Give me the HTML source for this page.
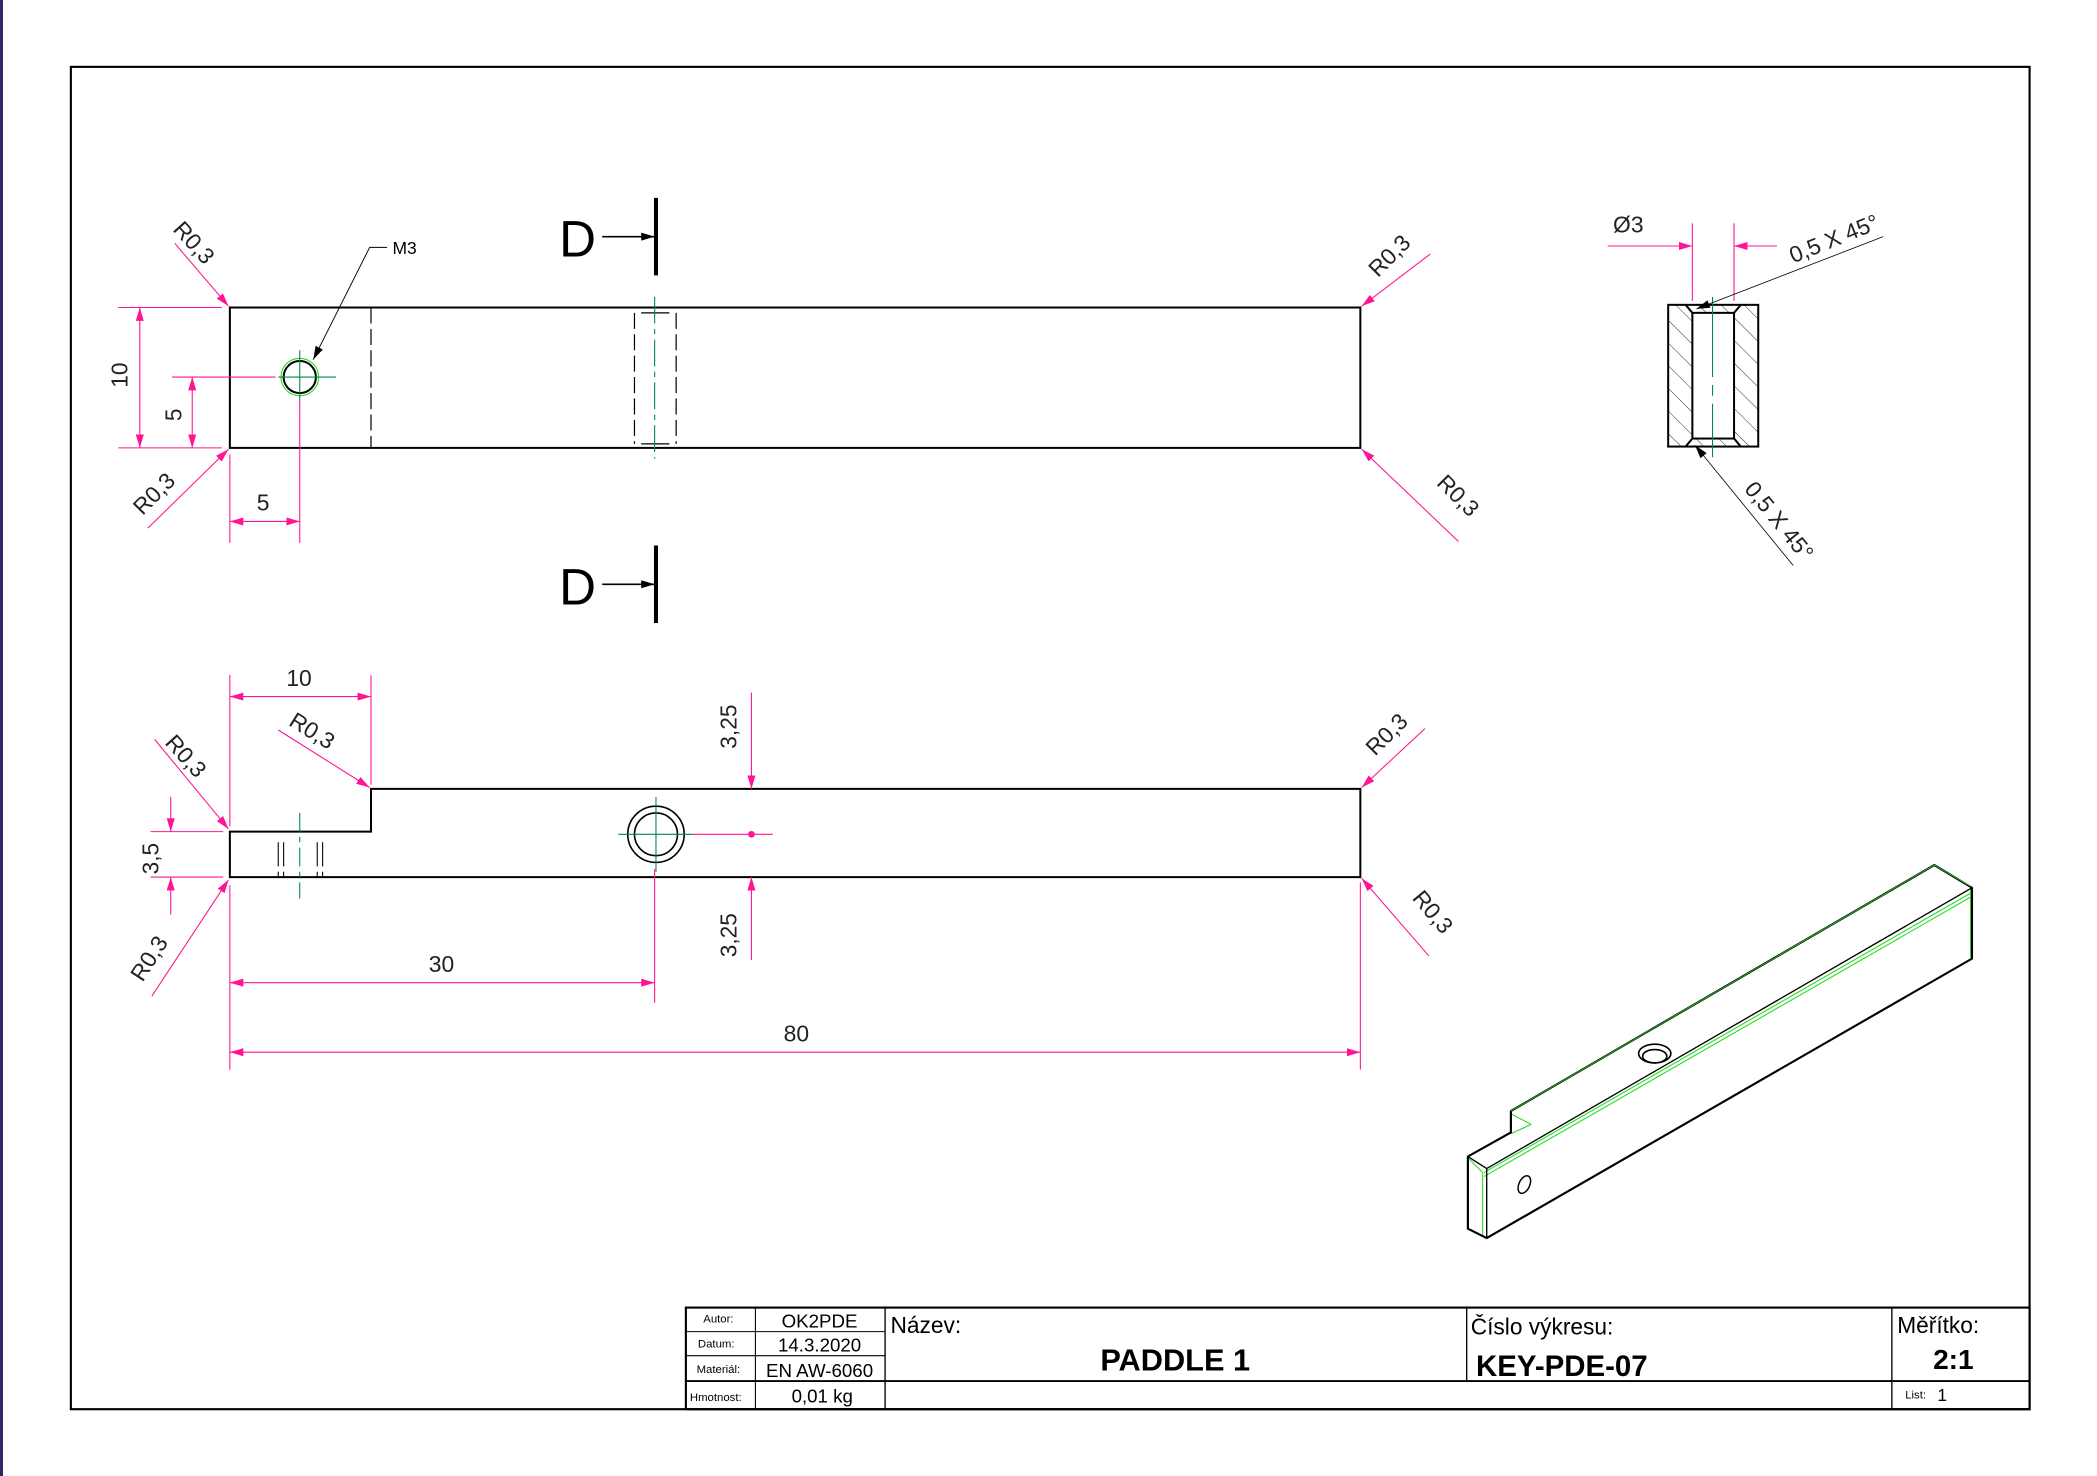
<!DOCTYPE html>
<html><head><meta charset="utf-8"><style>
html,body{margin:0;padding:0;background:#fff;}
svg{display:block;}
text{font-family:"Liberation Sans","DejaVu Sans",sans-serif;}
</style></head><body>
<svg width="2097" height="1476" viewBox="0 0 2097 1476" xmlns="http://www.w3.org/2000/svg">
<defs>
<marker id="a" viewBox="0 0 10 6" refX="10" refY="3" markerWidth="10" markerHeight="6" markerUnits="userSpaceOnUse" orient="auto-start-reverse"><path d="M0,0 L10,3 L0,6 Z" fill="#ff1493"/></marker>
<marker id="k" viewBox="0 0 10 6" refX="10" refY="3" markerWidth="11" markerHeight="6" markerUnits="userSpaceOnUse" orient="auto"><path d="M0,0 L10,3 L0,6 Z" fill="#000"/></marker>
<pattern id="h" patternUnits="userSpaceOnUse" width="12" height="12" patternTransform="rotate(-45)"><line x1="0" y1="0" x2="0" y2="12" stroke="#000" stroke-width="0.6"/></pattern>
</defs>
<rect x="0" y="0" width="3" height="1476" fill="#2b2b5e"/>
<g transform="scale(1.337)">
<rect x="53" y="50" width="1465" height="1004" fill="none" stroke="#000" stroke-width="1.6"/>
<g transform="scale(1.0054,1)">
<g fill="none" stroke="#000" stroke-width="1.5">
<rect x="171" y="230" width="841" height="105"/>
<circle cx="223" cy="282" r="12"/>
<path d="M171,622 L276,622 L276,590 L1012,590 L1012,656 L171,656 Z"/>
<circle cx="488" cy="624" r="21" stroke-width="1.2"/>
<circle cx="488" cy="624" r="16" stroke-width="1.2"/>
<rect x="1241" y="228" width="67" height="106" fill="url(#h)"/>
<rect x="1259" y="234" width="31" height="94" fill="#fff"/>
<path d="M1254,228 L1259,234 M1295,228 L1290,234 M1254,334 L1259,328 M1295,334 L1290,328"/>
</g>
<circle cx="223" cy="282" r="14" fill="none" stroke="#22dd22" stroke-width="0.8"/>
<g stroke="#000" stroke-width="0.9" stroke-dasharray="12,4" fill="none">
<line x1="276" y1="230" x2="276" y2="335"/>
<line x1="472" y1="234" x2="472" y2="332"/><line x1="503" y1="234" x2="503" y2="332"/>
<line x1="477" y1="234" x2="498" y2="234" stroke-dasharray="none"/><line x1="477" y1="332" x2="498" y2="332" stroke-dasharray="none"/>
</g>
<g stroke="#000" stroke-width="0.8" fill="none">
<line x1="207" y1="630" x2="207" y2="656" stroke-dasharray="18,4"/><line x1="211" y1="630" x2="211" y2="656" stroke-dasharray="18,4"/>
<line x1="236" y1="630" x2="236" y2="656" stroke-dasharray="18,4"/><line x1="240" y1="630" x2="240" y2="656" stroke-dasharray="18,4"/>
</g>
<g stroke="#008844" stroke-width="0.8" fill="none">
<line x1="207" y1="282" x2="250" y2="282"/><line x1="223" y1="262" x2="223" y2="300"/>
<line x1="487" y1="222" x2="487" y2="343" stroke-dasharray="20,4,4,4"/>
<line x1="460" y1="624" x2="516" y2="624"/><line x1="488" y1="596" x2="488" y2="652"/>
<line x1="223" y1="608" x2="223" y2="672" stroke-dasharray="14,4,4,4"/>
<line x1="1274" y1="222" x2="1274" y2="342" stroke-dasharray="60,6,8,6"/>
</g>

<text x="416" y="192" font-size="38">D</text>
<line x1="448" y1="177" x2="487" y2="177" stroke="#000" stroke-width="1.2" marker-end="url(#k)"/>
<line x1="488" y1="148" x2="488" y2="206" stroke="#000" stroke-width="3"/>
<text x="416" y="452" font-size="38">D</text>
<line x1="448" y1="437" x2="487" y2="437" stroke="#000" stroke-width="1.2" marker-end="url(#k)"/>
<line x1="488" y1="408" x2="488" y2="466" stroke="#000" stroke-width="3"/>

<polyline points="288,185 275,185 233,269" fill="none" stroke="#000" stroke-width="0.7" marker-end="url(#k)"/>
<text x="292" y="190" font-size="13">M3</text>

<g stroke="#ff1493" stroke-width="0.8" fill="none">
<line x1="88" y1="230" x2="165" y2="230"/><line x1="88" y1="335" x2="165" y2="335"/>
<line x1="104" y1="230" x2="104" y2="335" marker-start="url(#a)" marker-end="url(#a)"/>
<line x1="128" y1="282" x2="205" y2="282"/>
<line x1="143" y1="282" x2="143" y2="335" marker-start="url(#a)" marker-end="url(#a)"/>
<line x1="171" y1="340" x2="171" y2="406"/><line x1="223" y1="300" x2="223" y2="406"/>
<line x1="171" y1="390" x2="223" y2="390" marker-start="url(#a)" marker-end="url(#a)"/>
<line x1="130" y1="182" x2="170" y2="229" marker-end="url(#a)"/>
<line x1="1064" y1="190" x2="1013" y2="229" marker-end="url(#a)"/>
<line x1="110" y1="395" x2="170" y2="336" marker-end="url(#a)"/>
<line x1="1085" y1="405" x2="1013" y2="336" marker-end="url(#a)"/>
<line x1="171" y1="505" x2="171" y2="618"/><line x1="276" y1="505" x2="276" y2="587"/>
<line x1="171" y1="521" x2="276" y2="521" marker-start="url(#a)" marker-end="url(#a)"/>
<line x1="112" y1="622" x2="166" y2="622"/><line x1="112" y1="656" x2="166" y2="656"/>
<line x1="127" y1="596" x2="127" y2="622" marker-end="url(#a)"/><line x1="127" y1="684" x2="127" y2="656" marker-end="url(#a)"/>
<line x1="559" y1="518" x2="559" y2="590" marker-end="url(#a)"/>
<line x1="559" y1="718" x2="559" y2="656" marker-end="url(#a)"/>
<line x1="516" y1="624" x2="575" y2="624"/>
<line x1="171" y1="662" x2="171" y2="800"/><line x1="487" y1="650" x2="487" y2="750"/><line x1="1012" y1="660" x2="1012" y2="800"/>
<line x1="171" y1="735" x2="487" y2="735" marker-start="url(#a)" marker-end="url(#a)"/>
<line x1="171" y1="787" x2="1012" y2="787" marker-start="url(#a)" marker-end="url(#a)"/>
<line x1="115" y1="553" x2="170" y2="620" marker-end="url(#a)"/>
<line x1="207" y1="546" x2="275" y2="589" marker-end="url(#a)"/>
<line x1="1060" y1="545" x2="1013" y2="589" marker-end="url(#a)"/>
<line x1="1063" y1="715" x2="1013" y2="657" marker-end="url(#a)"/>
<line x1="113" y1="745" x2="170" y2="658" marker-end="url(#a)"/>
<line x1="1259" y1="167" x2="1259" y2="225"/><line x1="1290" y1="167" x2="1290" y2="225"/>
<line x1="1196" y1="184" x2="1259" y2="184" marker-end="url(#a)"/>
<line x1="1322" y1="184" x2="1290" y2="184" marker-end="url(#a)"/>
</g>
<circle cx="559" cy="624" r="2.5" fill="#ff1493"/>
<line x1="1401" y1="177" x2="1262" y2="231" stroke="#000" stroke-width="0.6" marker-end="url(#k)"/>
<line x1="1334" y1="423" x2="1261" y2="333" stroke="#000" stroke-width="0.6" marker-end="url(#k)"/>

<g font-size="17" fill="#222">
<text transform="translate(95,290) rotate(-90)">10</text>
<text transform="translate(135,315) rotate(-90)">5</text>
<text x="191" y="382">5</text>
<text transform="translate(128,172) rotate(48)">R0,3</text>
<text transform="translate(1025,208) rotate(-45)">R0,3</text>
<text transform="translate(106,386) rotate(-45)">R0,3</text>
<text transform="translate(1068,362) rotate(45)">R0,3</text>
<text x="213" y="513">10</text>
<text transform="translate(122,556) rotate(48)">R0,3</text>
<text transform="translate(214,542) rotate(32)">R0,3</text>
<text transform="translate(1023,566) rotate(-45)">R0,3</text>
<text transform="translate(1050,672) rotate(50)">R0,3</text>
<text transform="translate(106,735) rotate(-57)">R0,3</text>
<text transform="translate(118,654) rotate(-90)">3,5</text>
<text transform="translate(548,560) rotate(-90)">3,25</text>
<text transform="translate(548,716) rotate(-90)">3,25</text>
<text x="319" y="727">30</text>
<text x="583" y="779">80</text>
<text x="1200" y="174">Ø3</text>
<text transform="translate(1334,197) rotate(-22)">0,5 X 45°</text>
<text transform="translate(1297,366) rotate(51)">0,5 X 45°</text>
</g>

<g fill="none" stroke-linejoin="round">
<path d="M1124,833 L1139,841 L1124,848 M1104,877 L1466,668 M1104,880 L1466,671 M1093,867 L1103,877 M1103,877 L1103,924 M1466,665 L1466,716" stroke="#22dd22" stroke-width="0.8"/>
<path d="M1439,647 L1467,664 L1467,717 L1106,926 L1092,919 L1092,865 L1124,847 L1124,831 Z" stroke="#000" stroke-width="1.6"/>
<path d="M1092,865 L1106,874 L1467,664 M1106,874 L1106,926" stroke="#000" stroke-width="1"/>
<path d="M1124,831 L1439,647 L1466,663" stroke="#22dd22" stroke-width="0.6"/>
<ellipse cx="1231" cy="788" rx="12" ry="7" stroke="#000" stroke-width="1.2"/>
<ellipse cx="1231" cy="790" rx="9" ry="5" stroke="#000" stroke-width="1.2"/>
<ellipse cx="1134" cy="886" rx="4" ry="7" transform="rotate(25 1134 886)" stroke="#000" stroke-width="1.1"/>
</g>
</g>

<g fill="none" stroke="#000">
<rect x="513" y="978" width="1005" height="76" stroke-width="1.6"/>
<line x1="513" y1="1033" x2="1518" y2="1033" stroke-width="1.4"/>
<line x1="513" y1="996" x2="662" y2="996" stroke-width="0.8"/>
<line x1="513" y1="1014" x2="662" y2="1014" stroke-width="0.8"/>
<line x1="565" y1="978" x2="565" y2="1054" stroke-width="0.8"/>
<line x1="662" y1="978" x2="662" y2="1054" stroke-width="1"/>
<line x1="1097" y1="978" x2="1097" y2="1033" stroke-width="1"/>
<line x1="1415" y1="978" x2="1415" y2="1054" stroke-width="1"/>
</g>
<g fill="#000">
<text x="526" y="989" font-size="8.5">Autor:</text>
<text x="522" y="1008" font-size="8.5">Datum:</text>
<text x="521" y="1027" font-size="8.5">Materiál:</text>
<text x="516" y="1048" font-size="8.5">Hmotnost:</text>
<text x="613" y="993" font-size="14" text-anchor="middle">OK2PDE</text>
<text x="613" y="1011" font-size="14" text-anchor="middle">14.3.2020</text>
<text x="613" y="1030" font-size="14" text-anchor="middle">EN AW-6060</text>
<text x="615" y="1049" font-size="14" text-anchor="middle">0,01 kg</text>
<text x="666" y="997" font-size="17">Název:</text>
<text x="879" y="1025" font-size="23" font-weight="bold" text-anchor="middle">PADDLE 1</text>
<text x="1100" y="998" font-size="17">Číslo výkresu:</text>
<text x="1104" y="1029" font-size="22" font-weight="bold">KEY-PDE-07</text>
<text x="1419" y="997" font-size="17">Měřítko:</text>
<text x="1461" y="1024" font-size="21" font-weight="bold" text-anchor="middle">2:1</text>
<text x="1425" y="1046" font-size="8.5">List:</text>
<text x="1449" y="1048" font-size="13">1</text>
</g>
</g>
</svg>
</body></html>
